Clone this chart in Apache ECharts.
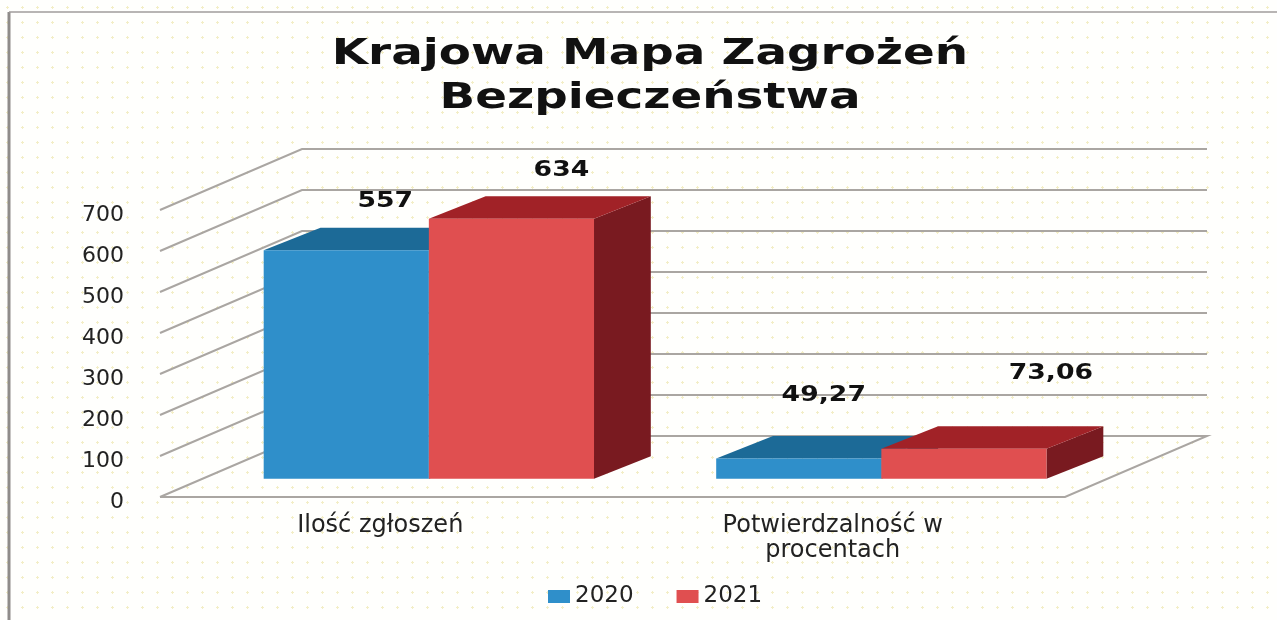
<!DOCTYPE html>
<html>
<head>
<meta charset="utf-8">
<title>Krajowa Mapa Zagrożeń Bezpieczeństwa</title>
<style>
  html, body { margin: 0; padding: 0; background-color: #fffffd; }
  body {
    background-image: radial-gradient(#f3eec6 1px, transparent 1.2px);
    background-size: 15px 15px;
  }
  #chart { width: 1277px; height: 620px; }
</style>
<script src="https://cdn.jsdelivr.net/npm/echarts@6/dist/echarts.min.js"></script>
</head>
<body>
<div id="chart"></div>
<script>
var chartTitle = 'Krajowa Mapa Zagrożeń\nBezpieczeństwa';
var categories = ['Ilość zgłoszeń', 'Potwierdzalność w\nprocentach'];
var seriesNames = ['2020', '2021'];
var values2020 = [557, 49.27];
var values2021 = [634, 73.06];
var tickValues = [0, 100, 200, 300, 400, 500, 600, 700];

// the labels sit away from the bars in the original, [dx, dy] from the middle of the bar top
var labelShift2020 = [[39, -49], [25, -63]];
var labelShift2021 = [[50, -48], [87, -75]];

var fontName = '"DejaVu Sans", sans-serif';
var depthX = 142;      // floor depth, front wall edge to back wall
var depthY = -61;
var barStart = 0.3;    // where the bars stand on the floor, as part of the depth
var barDepthX = 0.4;
var barDepthY = 0.37;
var barPart = 0.365;   // bar width as part of the category band
var wideText = 1.27;   // the scan is stretched sideways

function renderWall(params, api) {
  var grid = params.coordSys;
  var y = api.coord([0, api.value(1)])[1];
  var left = grid.x;
  var right = grid.x + grid.width;
  var points = [[left, y], [left + depthX, y + depthY], [right + depthX, y + depthY]];
  if (api.value(1) === 0) {
    // floor is closed on the front and the right
    points.push([right, y], [left, y]);
  }
  return {
    type: 'polyline',
    shape: { points: points },
    style: { fill: null, stroke: '#aaa6a2', lineWidth: 2 }
  };
}

// place: -1 stands left of the band middle, 0 right of it
function barRenderer(place, front, top, side, shifts) {
  return function (params, api) {
    var i = api.value(0);
    var value = api.value(1);
    var base = api.coord([i, 0]);
    var head = api.coord([i, value]);
    var w = api.size([1, 0])[0] * barPart;
    var x0 = base[0] + depthX * barStart + place * w;
    var x1 = x0 + w;
    var y0 = base[1] + depthY * barStart;
    var y1 = head[1] + depthY * barStart;
    var dx = depthX * barDepthX;
    var dy = depthY * barDepthY;
    var shift = shifts[i];
    return {
      type: 'group',
      children: [
        { type: 'polygon', shape: { points: [[x1, y0], [x1 + dx, y0 + dy], [x1 + dx, y1 + dy], [x1, y1]] }, style: { fill: side } },
        { type: 'polygon', shape: { points: [[x0, y1], [x1, y1], [x1 + dx, y1 + dy], [x0 + dx, y1 + dy]] }, style: { fill: top } },
        { type: 'rect', shape: { x: x0, y: y1, width: w, height: y0 - y1 }, style: { fill: front } },
        {
          type: 'text',
          x: (x0 + x1) / 2 + shift[0],
          y: y1 + shift[1],
          scaleX: wideText,
          style: {
            text: String(value).replace('.', ','),
            fill: '#111',
            font: 'bold 21px ' + fontName,
            align: 'center',
            verticalAlign: 'middle'
          }
        }
      ]
    };
  };
}

function pairs(list) {
  return list.map(function (v, i) { return [i, v]; });
}

var myChart = echarts.init(document.getElementById('chart'), null, { renderer: 'canvas' });
var option = {
  animation: false,
  backgroundColor: 'transparent',
  legend: {
    data: seriesNames,
    bottom: 7,
    left: 543,
    icon: 'rect',
    itemWidth: 22,
    itemHeight: 13,
    itemGap: 43,
    textStyle: { fontFamily: fontName, fontSize: 23, color: '#222' }
  },
  grid: { left: 160, right: 212, top: 210, bottom: 123 },
  xAxis: {
    type: 'category',
    data: categories,
    axisLine: { show: false },
    axisTick: { show: false },
    axisLabel: { fontFamily: fontName, fontSize: 24, lineHeight: 25, color: '#222', margin: 16, padding: [0, 12, 0, 0] }
  },
  yAxis: {
    type: 'value',
    min: 0,
    max: 700,
    interval: 100,
    axisLine: { show: false },
    axisTick: { show: false },
    splitLine: { show: false },
    axisLabel: { fontFamily: fontName, fontSize: 22, color: '#222', margin: 36, verticalAlign: 'top', lineHeight: 10 }
  },
  series: [
    {
      name: 'walls',
      type: 'custom',
      renderItem: renderWall,
      clip: false,
      silent: true,
      z: 1,
      encode: { x: 0, y: 1 },
      data: tickValues.map(function (t) { return [0, t]; })
    },
    {
      name: seriesNames[0],
      type: 'custom',
      renderItem: barRenderer(-1, '#2f8fca', '#1c6a97', '#15506f', labelShift2020),
      clip: false,
      z: 2,
      itemStyle: { color: '#2f8fca' },
      encode: { x: 0, y: 1 },
      data: pairs(values2020)
    },
    {
      name: seriesNames[1],
      type: 'custom',
      renderItem: barRenderer(0, '#e04f50', '#a12227', '#791a20', labelShift2021),
      clip: false,
      z: 3,
      itemStyle: { color: '#e04f50' },
      encode: { x: 0, y: 1 },
      data: pairs(values2021)
    }
  ],
  graphic: [
    { type: 'line', shape: { x1: 9, y1: 12, x2: 9, y2: 620 }, style: { stroke: '#8f8c8a', lineWidth: 3 } },
    { type: 'line', shape: { x1: 9, y1: 12, x2: 1277, y2: 12 }, style: { stroke: '#a09d9b', lineWidth: 1.5 } },
    {
      type: 'text',
      x: 650,
      y: 77,
      scaleX: 1.3,
      style: {
        text: chartTitle,
        fill: '#111',
        font: 'bold 36px ' + fontName,
        lineHeight: 44,
        align: 'center',
        verticalAlign: 'middle'
      }
    }
  ]
};

myChart.setOption(option);
</script>
</body>
</html>
